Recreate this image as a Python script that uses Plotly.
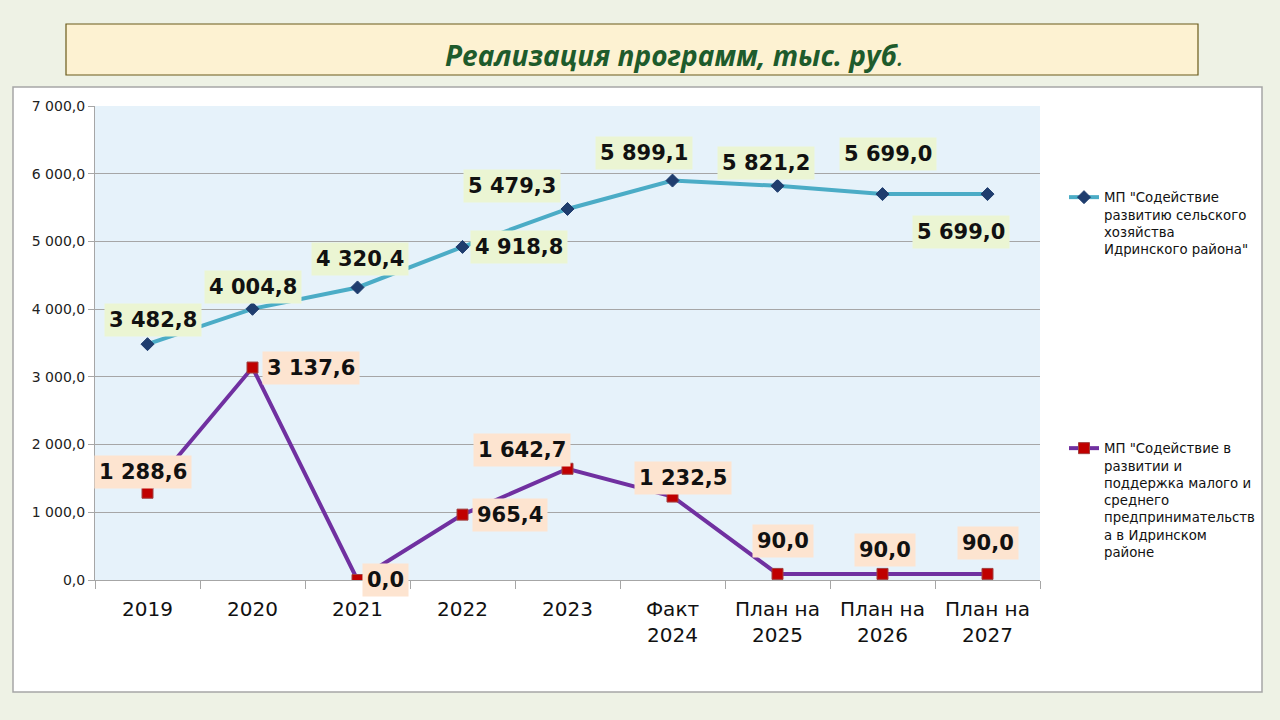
import plotly.graph_objects as go

categories = ["2019", "2020", "2021", "2022", "2023", "Факт<br>2024", "План на<br>2025", "План на<br>2026", "План на<br>2027"]
agri_values = [3482.8, 4004.8, 4320.4, 4918.8, 5479.3, 5899.1, 5821.2, 5699.0, 5699.0]
sme_values = [1288.6, 3137.6, 0.0, 965.4, 1642.7, 1232.5, 90.0, 90.0, 90.0]
agri_name = 'МП "Содействие<br>развитию сельского<br>хозяйства<br>Идринского района"'
sme_name = 'МП "Содействие в<br>развитии и<br>поддержка малого и<br>среднего<br>предпринимательств<br>а в Идринском<br>районе'
y_tickvals = [0, 1000, 2000, 3000, 4000, 5000, 6000, 7000]
y_ticktext = ["0,0", "1 000,0", "2 000,0", "3 000,0", "4 000,0", "5 000,0", "6 000,0", "7 000,0"]

# label offsets in pixels (style/positions)
agri_dx = [5, 0, 2, 56, -56, -29, -12, 5, -27]
agri_dy = [24, 22, 28, 0, 23, 28, 23, 40, -38]
sme_dx = [-5, 58, 28, 47, -46, 10, 5, 2, 0]
sme_dy = [21, 0, 0, 0, 19, 19, 33, 24, 31]


def fmt(v):
    return f"{v:,.1f}".replace(",", " ").replace(".", ",")


fig = go.Figure()
fig.add_trace(go.Scatter(
    x=categories, y=agri_values, mode="lines+markers", name=agri_name,
    line=dict(color="#4bacc6", width=4),
    marker=dict(symbol="diamond", size=10, color="#1f3d6e", line=dict(color="#1f3d6e", width=1)),
    legend="legend",
))
fig.add_trace(go.Scatter(
    x=categories, y=sme_values, mode="lines+markers", name=sme_name,
    line=dict(color="#7030a0", width=4),
    marker=dict(symbol="square", size=11, color="#c00000", line=dict(color="#a04040", width=1)),
    legend="legend2",
))

L, R, T, B = 95, 1040, 106, 580
W, H = R - L, B - T


def px(x):
    return (x - L) / W


def py(y):
    return (B - y) / H


shapes = [
    dict(type="rect", xref="paper", yref="paper", x0=px(13), x1=px(1262), y0=py(692), y1=py(87),
         fillcolor="white", line=dict(color="#a6a6a6", width=1.5), layer="below"),
    dict(type="rect", xref="paper", yref="paper", x0=0, x1=1, y0=0, y1=1,
         fillcolor="#e6f2fa", line=dict(width=0), layer="below"),
    dict(type="rect", xref="paper", yref="paper", x0=px(66), x1=px(1198), y0=py(75), y1=py(24),
         fillcolor="#fdf2d2", line=dict(color="#6b5a1a", width=1.2), layer="below"),
]

annotations = [
    dict(xref="paper", yref="paper", x=px(674), y=py(55), text="<b><i>Реализация программ, тыс. руб</i></b><i>.</i>",
         showarrow=False, font=dict(family="Open Sans", size=28, color="#1e5b2c"), xanchor="center", yanchor="middle"),
]
for i, c in enumerate(categories):
    annotations.append(dict(x=i, y=agri_values[i], xref="x", yref="y", text="<b>" + fmt(agri_values[i]) + "</b>",
                            showarrow=False, xshift=agri_dx[i], yshift=agri_dy[i], bgcolor="#ebf5d3",
                            borderpad=4, font=dict(family="DejaVu Sans", size=21, color="#111111")))
    annotations.append(dict(x=i, y=sme_values[i], xref="x", yref="y", text="<b>" + fmt(sme_values[i]) + "</b>",
                            showarrow=False, xshift=sme_dx[i], yshift=sme_dy[i], bgcolor="#fde4d0",
                            borderpad=4, font=dict(family="DejaVu Sans", size=21, color="#111111")))

fig.update_layout(
    width=1280, height=720,
    margin=dict(l=L, r=1280 - R, t=T, b=720 - B, autoexpand=False),
    paper_bgcolor="#eef2e5",
    plot_bgcolor="rgba(0,0,0,0)",
    shapes=shapes,
    annotations=annotations,
    showlegend=True,
    legend=dict(x=px(1064), y=py(182), xanchor="left", yanchor="top", bgcolor="rgba(0,0,0,0)",
                font=dict(family="DejaVu Sans", size=13.3, color="#111111"), valign="top", itemwidth=30),
    legend2=dict(x=px(1064), y=py(433), xanchor="left", yanchor="top", bgcolor="rgba(0,0,0,0)",
                 font=dict(family="DejaVu Sans", size=13.3, color="#111111"), valign="top", itemwidth=30),
    xaxis=dict(type="category", range=[-0.5, 8.5], tickson="boundaries", ticks="outside", ticklen=8,
               tickcolor="#a6a6a6", showline=True, linecolor="#a6a6a6", linewidth=1, showgrid=False,
               ticklabelstandoff=11,
               tickfont=dict(family="DejaVu Sans", size=20, color="#111111"), fixedrange=True),
    yaxis=dict(range=[0, 7000], tickvals=y_tickvals, ticktext=y_ticktext, ticks="outside", ticklen=6,
               tickcolor="#a6a6a6", showline=True, linecolor="#a6a6a6", showgrid=True, gridcolor="#a6a6a6",
               gridwidth=1, zeroline=False, tickfont=dict(family="DejaVu Sans", size=14, color="#222222")),
)

fig.write_html("out.html", config={"displayModeBar": False},
               post_script="document.body.style.margin='0';document.body.style.overflow='hidden';")
